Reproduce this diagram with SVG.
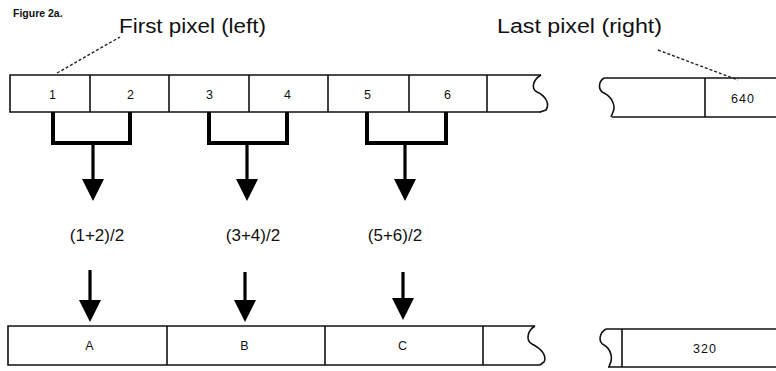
<svg xmlns="http://www.w3.org/2000/svg" width="776" height="371" viewBox="0 0 776 371">
<style>
.strip{fill:none;stroke:#111;stroke-width:1.6}
.div{stroke:#111;stroke-width:1.6}
.cell{font-family:"Liberation Sans",Arial,sans-serif;font-size:12.5px;fill:#111;text-anchor:middle;letter-spacing:1px}
.lbl{font-family:"Liberation Sans",Arial,sans-serif;font-size:20px;fill:#111}
.frm{font-family:"Liberation Sans",Arial,sans-serif;font-size:17px;fill:#111;text-anchor:middle}
.brk{fill:none;stroke:#000;stroke-width:4}
.stem{stroke:#000;stroke-width:3.2}
.head{fill:#000}
.lead{stroke:#222;stroke-width:1.4;stroke-dasharray:3 2;fill:none}
</style>
<rect width="776" height="371" fill="#fff"/>
<text x="13" y="17" font-family="Liberation Sans,Arial,sans-serif" font-size="10.5" font-weight="bold" fill="#111">Figure 2a.</text>
<text class="lbl" x="119" y="33" textLength="147" lengthAdjust="spacingAndGlyphs">First pixel (left)</text>
<text class="lbl" x="497" y="33" textLength="165" lengthAdjust="spacingAndGlyphs">Last pixel (right)</text>
<g id="top-strip">
<path class="strip" d="M541,75 H10 V112 H541"/>
<path class="strip" d="M541,75 C534,79 530,88 537,92 C546,96 550,104 546,110 L540,112"/>
<line class="div" x1="90" y1="75" x2="90" y2="112"/>
<line class="div" x1="169" y1="75" x2="169" y2="112"/>
<line class="div" x1="249" y1="75" x2="249" y2="112"/>
<line class="div" x1="328" y1="75" x2="328" y2="112"/>
<line class="div" x1="409" y1="75" x2="409" y2="112"/>
<line class="div" x1="487" y1="75" x2="487" y2="112"/>
<text class="cell" x="53" y="99">1</text>
<text class="cell" x="131" y="99">2</text>
<text class="cell" x="210" y="99">3</text>
<text class="cell" x="288" y="99">4</text>
<text class="cell" x="368" y="99">5</text>
<text class="cell" x="448" y="99">6</text>
</g>
<g id="top-right-strip">
<path class="strip" d="M776,78 H604 M776,117 H612"/>
<path class="strip" d="M604,78 C598,82 598,90 604,93 C612,97 616,106 613,112 L611,117"/>
<line class="div" x1="705" y1="78" x2="705" y2="117"/>
<text class="cell" x="743" y="103">640</text>
</g>
<g id="bottom-strip">
<path class="strip" d="M535,326 H8 V365 H540"/>
<path class="strip" d="M535,326 C528,330 525,340 532,344 C542,349 547,356 544,362 L540,365"/>
<line class="div" x1="167" y1="326" x2="167" y2="365"/>
<line class="div" x1="325" y1="326" x2="325" y2="365"/>
<line class="div" x1="483" y1="326" x2="483" y2="365" stroke-width="2.2"/>
<text class="cell" x="90" y="350">A</text>
<text class="cell" x="245" y="350">B</text>
<text class="cell" x="403" y="350">C</text>
</g>
<g id="bottom-right-strip">
<path class="strip" d="M776,329 H606 M776,367 H608"/>
<path class="strip" d="M606,329 C599,333 598,342 604,345 C611,349 613,358 610,364 L609,367"/>
<line class="div" x1="622" y1="329" x2="622" y2="367"/>
<text class="cell" x="705" y="353">320</text>
</g>
<g id="formulas">
<text class="frm" x="97" y="241">(1+2)/2</text>
<text class="frm" x="253" y="241">(3+4)/2</text>
<text class="frm" x="395" y="241">(5+6)/2</text>
</g>
<g id="connectors">
<line class="lead" x1="57" y1="73" x2="120" y2="37"/>
<line class="lead" x1="658" y1="50" x2="738" y2="80"/>
<path class="brk" d="M53,112 V143 H130 V112"/>
<path class="brk" d="M209,112 V143 H287 V112"/>
<path class="brk" d="M367,112 V143 H446 V112"/>
<line class="stem" x1="93" y1="143" x2="93" y2="184"/>
<polygon class="head" points="82,179 104,179 93,201"/>
<line class="stem" x1="247" y1="143" x2="247" y2="184"/>
<polygon class="head" points="236,179 258,179 247,201"/>
<line class="stem" x1="405" y1="143" x2="405" y2="184"/>
<polygon class="head" points="394,179 416,179 405,201"/>
<line class="stem" x1="90" y1="270" x2="90" y2="304"/>
<polygon class="head" points="79,300 101,300 90,322"/>
<line class="stem" x1="245" y1="272" x2="245" y2="304"/>
<polygon class="head" points="234,300 256,300 245,322"/>
<line class="stem" x1="403" y1="272" x2="403" y2="302"/>
<polygon class="head" points="392,298 414,298 403,320"/>
</g>
</svg>
